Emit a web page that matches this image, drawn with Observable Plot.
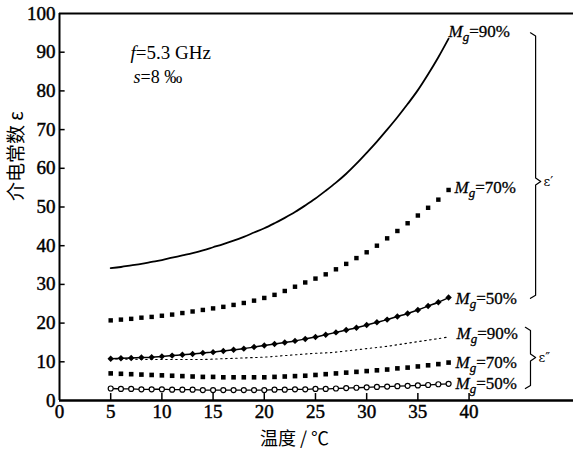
<!DOCTYPE html>
<html><head><meta charset="utf-8">
<script src="https://cdn.jsdelivr.net/npm/d3@7"></script>
<script src="https://cdn.jsdelivr.net/npm/@observablehq/plot@0.6"></script>
<style>body{margin:0;background:#fff} #chart svg{display:block}</style>
</head><body><div id="chart"></div>
<script>
// temperatures (°C)
const temps = [5,6,7,8,9,10,11,12,13,14,15,16,17,18,19,20,21,22,23,24,25,26,27,28,29,30,31,32,33,34,35,36,37,38];
// ε' (real part)
const epsR90 = [34.2,34.5,34.9,35.3,35.8,36.3,36.9,37.5,38.1,38.8,39.6,40.4,41.3,42.3,43.4,44.5,45.8,47.2,48.7,50.4,52.2,54.2,56.3,58.6,61.2,64.0,66.9,70.0,73.2,76.6,80.2,84.3,88.7,93.5];
const epsR70 = [20.7,20.9,21.1,21.4,21.6,21.9,22.2,22.6,23.0,23.4,23.8,24.2,24.7,25.2,25.8,26.5,27.3,28.3,29.4,30.5,31.5,32.6,33.9,35.3,36.8,38.3,40.0,41.9,43.8,45.8,47.8,49.8,51.9,54.4];
const epsR50 = [10.8,10.9,11.0,11.1,11.2,11.4,11.6,11.8,12.0,12.3,12.5,12.8,13.1,13.4,13.8,14.2,14.6,15.0,15.4,15.9,16.4,17.0,17.6,18.2,18.8,19.5,20.2,20.9,21.7,22.5,23.4,24.4,25.4,26.6];
// ε'' (imaginary part)
const epsI90 = [10.8,10.7,10.7,10.6,10.6,10.6,10.6,10.6,10.6,10.6,10.7,10.8,10.9,11.0,11.1,11.2,11.4,11.6,11.8,12.0,12.2,12.3,12.5,12.8,13.1,13.4,13.7,14.0,14.4,14.8,15.2,15.6,16.0,16.4];
const epsI70 = [7.0,6.9,6.8,6.7,6.6,6.5,6.4,6.3,6.2,6.1,6.1,6.0,6.0,6.0,6.0,6.0,6.1,6.2,6.3,6.4,6.6,6.8,7.0,7.2,7.4,7.6,7.8,8.0,8.3,8.5,8.8,9.1,9.4,9.8];
const epsI50 = [3.1,3.0,3.0,2.9,2.9,2.9,2.8,2.8,2.8,2.7,2.7,2.7,2.7,2.7,2.7,2.7,2.8,2.8,2.9,2.9,3.0,3.0,3.1,3.2,3.3,3.4,3.5,3.6,3.7,3.8,3.9,4.0,4.2,4.3];
// axis ticks
const xTicks = [0,5,10,15,20,25,30,35,40];
const yTicks = [0,10,20,30,40,50,60,70,80,90,100];
// texts
const seriesLabels = ["Mg=90%","Mg=70%","Mg=50%"];
const groupLabels = ["ε′","ε″"];
const condLabels = ["f=5.3 GHz","s=8 ‰"];
const xLabel = "温度 / ℃";
const yLabel = "介电常数 ε";
// brace extents [top, tip, bottom] in ε units, at x (°C)
const braceR = {x: 46.5, top: 95, tip: 56.6, bottom: 26.4};
const braceI = {x: 46.0, top: 18.9, tip: 11.1, bottom: 3.1};

const rows = arr => temps.map((t, i) => ({t, v: arr[i]}));
const last = arr => [{t: temps[temps.length - 1], v: arr[arr.length - 1]}];
const bracePts = b => [
  {x: b.x - 0.5, y: b.top}, {x: b.x, y: b.top - 0.8},
  {x: b.x, y: b.tip + 0.9}, {x: b.x + 0.5, y: b.tip}, {x: b.x, y: b.tip - 0.9},
  {x: b.x, y: b.bottom + 0.8}, {x: b.x - 0.5, y: b.bottom}
];
const lab = (arr, text, dx, dy) => Plot.text(last(arr), {x: "t", y: "v", text: () => text, textAnchor: "start", lineAnchor: "middle", dx, dy, fontSize: 17, fill: "black", stroke: "black", strokeWidth: 0.3});

const chart = Plot.plot({
  width: 573, height: 452,
  marginTop: 13, marginBottom: 52, marginLeft: 59, marginRight: 0,
  x: {domain: [0, 50.2]},
  y: {domain: [0, 100]},
  style: {fontFamily: "'Liberation Serif', 'Times New Roman', serif", fontSize: "19px", background: "#fff", color: "#000", overflow: "visible"},
  marks: [
    Plot.axisX({ticks: xTicks, tickSize: 0, tickPadding: 4, fontSize: 19, label: null, tickFormat: d => String(d)}),
    Plot.axisY({ticks: yTicks, tickSize: 0, tickPadding: 4, fontSize: 19, label: null, tickFormat: d => String(d)}),
    Plot.ruleX(xTicks.slice(1), {x: d => d, y1: 0, y2: 1.8, strokeWidth: 1.5, stroke: "black"}),
    Plot.ruleY(yTicks.slice(1, -1), {y: d => d, x1: 0, x2: 0.55, strokeWidth: 1.5, stroke: "black"}),
    Plot.ruleY([0], {strokeWidth: 2.5, stroke: "black"}),
    Plot.ruleY([100], {strokeWidth: 2, stroke: "black"}),
    Plot.ruleX([0], {strokeWidth: 2, stroke: "black"}),
    // ε' series
    Plot.line(rows(epsR90), {x: "t", y: "v", stroke: "black", strokeWidth: 1.8, curve: "catmull-rom"}),
    Plot.dot(rows(epsR70), {x: "t", y: "v", symbol: "square", r: 2.5, fill: "black", stroke: "none"}),
    Plot.line(rows(epsR50), {x: "t", y: "v", stroke: "black", strokeWidth: 1.5, curve: "catmull-rom"}),
    Plot.dot(rows(epsR50), {x: "t", y: "v", symbol: "diamond2", r: 2.9, fill: "black", stroke: "none"}),
    // ε'' series
    Plot.line(rows(epsI90), {x: "t", y: "v", stroke: "black", strokeWidth: 1.1, strokeDasharray: "1.5,3.5", curve: "catmull-rom"}),
    Plot.dot(rows(epsI70), {x: "t", y: "v", symbol: "square", r: 2.6, fill: "black", stroke: "none"}),
    Plot.line(rows(epsI50), {x: "t", y: "v", stroke: "black", strokeWidth: 1.3, curve: "catmull-rom"}),
    Plot.dot(rows(epsI50), {x: "t", y: "v", symbol: "circle", r: 2.5, fill: "white", stroke: "black", strokeWidth: 1.2}),
    // series labels
    lab(epsR90, seriesLabels[0], 0, -7),
    lab(epsR70, seriesLabels[1], 6, -2),
    lab(epsR50, seriesLabels[2], 7, 1),
    lab(epsI90, seriesLabels[0], 8, -3),
    lab(epsI70, seriesLabels[1], 7, 0),
    lab(epsI50, seriesLabels[2], 7, 0),
    // braces
    Plot.line(bracePts(braceR), {x: "x", y: "y", stroke: "black", strokeWidth: 1.2}),
    Plot.line(bracePts(braceI), {x: "x", y: "y", stroke: "black", strokeWidth: 1.2}),
    Plot.text([braceR], {x: "x", y: "tip", text: () => groupLabels[0], textAnchor: "start", dx: 8, fontSize: 13, fontFamily: "'DejaVu Serif', serif"}),
    Plot.text([braceI], {x: "x", y: "tip", text: () => groupLabels[1], textAnchor: "start", dx: 8, fontSize: 13, fontFamily: "'DejaVu Serif', serif"}),
    // conditions
    Plot.text([condLabels[0]], {frameAnchor: "top-left", dx: 71, dy: 39, lineAnchor: "middle", textAnchor: "start", fontSize: 19}),
    Plot.text([condLabels[1]], {frameAnchor: "top-left", dx: 74, dy: 64, lineAnchor: "middle", textAnchor: "start", fontSize: 18}),
    // axis titles
    Plot.text([xLabel], {frameAnchor: "bottom", dx: -22, dy: 39, lineAnchor: "middle", fontSize: 18, fontFamily: "'Noto Sans CJK SC', sans-serif"}),
    Plot.text([yLabel], {frameAnchor: "left", dx: -43, dy: -6, rotate: -90, lineAnchor: "middle", fontSize: 19, fontFamily: "'Noto Sans CJK SC', sans-serif"})
  ]
});

const NS = "http://www.w3.org/2000/svg";
function add(t, s, attrs) {
  const ts = document.createElementNS(NS, "tspan");
  for (const k in attrs) ts.setAttribute(k, attrs[k]);
  ts.textContent = s;
  t.appendChild(ts);
}
for (const t of chart.querySelectorAll("text")) {
  const s = t.textContent;
  let m;
  if ((m = s.match(/^Mg(=.*)$/))) {
    t.textContent = "";
    add(t, "M", {"font-style": "italic"});
    add(t, "g", {"font-style": "italic", "font-size": "13", "dy": "4"});
    add(t, m[1], {"dy": "-4"});
  } else if ((m = s.match(/^([fs])(=.*)$/))) {
    t.textContent = "";
    add(t, m[1], {"font-style": "italic"});
    add(t, m[2], {});
  }
}
for (const g of chart.querySelectorAll('g[aria-label$="tick label"]')) {
  g.setAttribute("stroke", "black");
  g.setAttribute("stroke-width", "0.45");
}
document.getElementById("chart").appendChild(chart);
</script>
</body></html>
